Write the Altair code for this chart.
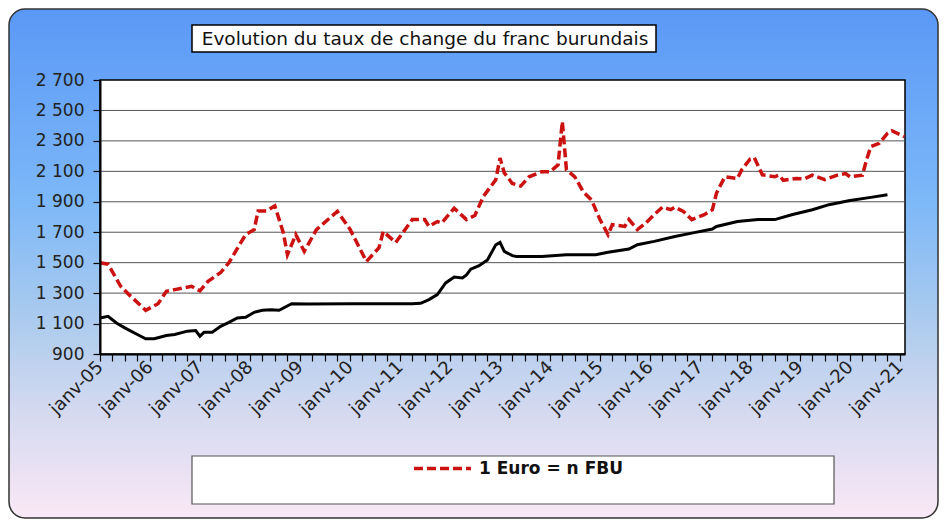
import altair as alt
import pandas as pd

# ---------------- data ----------------
title_text = "Evolution du taux de change du franc burundais"
euro_label = "1 Euro = n FBU"

euro_dates = ["2005-01", "2005-03", "2005-06", "2005-08", "2005-12", "2006-03", "2006-05", "2006-07",
              "2006-11", "2007-01", "2007-03", "2007-06", "2007-08", "2007-11", "2007-12", "2008-02",
              "2008-03", "2008-05", "2008-07", "2008-09", "2008-10", "2008-12", "2009-02", "2009-05",
              "2009-10", "2010-01", "2010-05", "2010-08", "2010-09", "2010-12", "2011-04", "2011-07",
              "2011-08", "2011-10", "2011-11", "2012-02", "2012-05", "2012-07", "2012-09", "2012-12",
              "2013-01", "2013-02", "2013-04", "2013-06", "2013-08", "2013-11", "2014-01", "2014-03",
              "2014-04", "2014-05", "2014-07", "2014-09", "2014-11", "2015-01", "2015-03", "2015-04",
              "2015-07", "2015-08", "2015-10", "2015-12", "2016-02", "2016-04", "2016-06", "2016-07",
              "2016-09", "2016-11", "2017-02", "2017-04", "2017-05", "2017-07", "2017-10", "2017-11",
              "2018-01", "2018-02", "2018-04", "2018-07", "2018-08", "2018-09", "2018-12", "2019-02",
              "2019-04", "2019-07", "2019-10", "2019-12", "2020-01", "2020-04", "2020-05", "2020-06",
              "2020-08", "2020-10", "2020-11", "2021-02"]
euro_values = [1500, 1490, 1345, 1290, 1187, 1230, 1312, 1323,
               1345, 1315, 1377, 1435, 1500, 1640, 1684, 1717,
               1840, 1840, 1873, 1697, 1552, 1684, 1574, 1717,
               1837, 1720, 1508, 1598, 1705, 1632, 1783, 1783,
               1738, 1770, 1760, 1857, 1783, 1810, 1935, 2045,
               2187, 2090, 2020, 2003, 2064, 2097, 2097, 2143,
               2427, 2110, 2064, 1966, 1911, 1783, 1684, 1750,
               1738, 1783, 1717, 1760, 1815, 1865, 1848, 1865,
               1837, 1783, 1815, 1848, 1957, 2064, 2053, 2110,
               2180, 2190, 2077, 2064, 2075, 2041, 2053, 2050,
               2075, 2045, 2075, 2085, 2064, 2075, 2175, 2262,
               2284, 2350, 2367, 2328]

usd_dates = ["2005-01", "2005-03", "2005-05", "2005-07", "2005-10", "2005-12", "2006-02", "2006-05",
             "2006-07", "2006-10", "2006-12", "2007-01", "2007-02", "2007-04", "2007-06", "2007-08",
             "2007-10", "2007-12", "2008-02", "2008-04", "2008-06", "2008-08", "2008-11", "2009-03",
             "2010-01", "2011-04", "2011-06", "2011-08", "2011-10", "2011-12", "2012-02", "2012-04",
             "2012-05", "2012-06", "2012-08", "2012-10", "2012-12", "2013-01", "2013-02", "2013-04",
             "2013-05", "2013-11", "2014-05", "2014-12", "2015-03", "2015-08", "2015-10", "2016-02",
             "2016-07", "2016-11", "2017-04", "2017-05", "2017-10", "2018-03", "2018-07", "2018-11",
             "2019-04", "2019-08", "2020-01", "2020-06", "2020-10"]
usd_values = [1137, 1148, 1104, 1072, 1028, 1000, 1000, 1021,
              1028, 1050, 1054, 1017, 1043, 1043, 1082, 1108,
              1137, 1141, 1174, 1187, 1191, 1187, 1230, 1228,
              1230, 1230, 1233, 1257, 1290, 1367, 1406, 1400,
              1420, 1457, 1480, 1518, 1617, 1633, 1574, 1546,
              1541, 1541, 1552, 1552, 1568, 1590, 1618, 1640,
              1672, 1694, 1721, 1738, 1770, 1783, 1783, 1815,
              1848, 1881, 1909, 1929, 1946]

y_ticks = [900, 1100, 1300, 1500, 1700, 1900, 2100, 2300, 2500, 2700]
grid_values = [1100, 1300, 1500, 1700, 1900, 2100, 2300, 2500]

# ---------------- layout ----------------
W, H = 805, 274
PL, PT, PR, PB = 92, 72, 34, 165
FONT = "DejaVu Sans"

euro_df = pd.DataFrame({"date": [d + "-01" for d in euro_dates], "value": euro_values, "serie": euro_label})
usd_df = pd.DataFrame({"date": [d + "-01" for d in usd_dates], "value": usd_values})
grid_df = pd.DataFrame({"value": grid_values})
one = pd.DataFrame({"t": [title_text]})

x_scale = alt.Scale(type="utc",
                    domain=[alt.DateTime(year=2005, month=1, date=1, utc=True),
                            alt.DateTime(year=2021, month=2, date=6, utc=True)])
y_scale = alt.Scale(domain=[900, 2700], nice=False, zero=False)

x_axis = alt.Axis(title=None, grid=False, zindex=1,
                  tickCount={"interval": "month", "step": 3},
                  labelExpr="utcmonth(datum.value) == 0 ? 'janv-' + utcFormat(datum.value, '%y') : ''",
                  labelAngle=-45, labelAlign="right", labelBaseline="middle",
                  labelFont=FONT, labelFontSize=18, labelColor="#222222", labelPadding=3,
                  labelOverlap=False, labelFlush=False,
                  domainColor="black", domainWidth=2, tickColor="black", tickSize=7, tickWidth=1.2)
y_axis = alt.Axis(title=None, grid=False, zindex=1, values=y_ticks,
                  labelExpr="replace(format(datum.value, ','), ',', ' ')",
                  labelFont=FONT, labelFontSize=17, labelColor="#222222", labelPadding=9,
                  domainColor="black", domainWidth=2, tickColor="black", tickSize=7, tickWidth=1.2)

gradient = alt.LinearGradient(
    gradient="linear", x1=0, x2=0, y1=0, y2=1,
    stops=[alt.GradientStop(offset=0.0, color="#5A98F6"),
           alt.GradientStop(offset=0.38, color="#7DB8F8"),
           alt.GradientStop(offset=0.6, color="#A9CAEE"),
           alt.GradientStop(offset=0.8, color="#D6DAF0"),
           alt.GradientStop(offset=1.0, color="#FAE8F6")])

bg = alt.Chart(one).mark_rect(fill=gradient, stroke="#333333", strokeWidth=1.5, cornerRadius=16).encode(
    x=alt.value(-PL + 1), x2=alt.value(W + PR - 1), y=alt.value(-PT + 1), y2=alt.value(H + PB - 1))

plot_bg = alt.Chart(one).mark_rect(fill="white", stroke="black", strokeWidth=1.5).encode(
    x=alt.value(0), x2=alt.value(W), y=alt.value(0), y2=alt.value(H))

grid = alt.Chart(grid_df).mark_rule(color="#555555", strokeWidth=1).encode(
    y=alt.Y("value:Q", scale=y_scale, axis=y_axis), x=alt.value(0), x2=alt.value(W))

title_box = alt.Chart(one).mark_rect(fill="white", stroke="black", strokeWidth=1.5).encode(
    x=alt.value(92), x2=alt.value(556), y=alt.value(-55), y2=alt.value(-28))
title_txt = alt.Chart(one).mark_text(font=FONT, fontSize=18.5, color="#111111",
                                     align="center", baseline="middle").encode(
    text="t:N", x=alt.value(325), y=alt.value(-41))

legend_box = alt.Chart(one).mark_rect(fill="white", stroke="#555555", strokeWidth=1.2).encode(
    x=alt.value(92), x2=alt.value(734), y=alt.value(376), y2=alt.value(424))

usd_line = alt.Chart(usd_df).mark_line(color="black", strokeWidth=3).encode(
    x=alt.X("date:T", scale=x_scale, axis=x_axis),
    y=alt.Y("value:Q", scale=y_scale, axis=y_axis))

euro_line = alt.Chart(euro_df).mark_line(strokeWidth=3.5, strokeDash=[9, 4]).encode(
    x=alt.X("date:T", scale=x_scale, axis=x_axis),
    y=alt.Y("value:Q", scale=y_scale, axis=y_axis),
    color=alt.Color("serie:N", scale=alt.Scale(domain=[euro_label], range=["#CC1111"]),
                    legend=alt.Legend(title=None, orient="none", legendX=312, legendY=358,
                                      symbolType="stroke", symbolSize=3249, symbolStrokeWidth=3.5,
                                      symbolDash=[9, 4], labelFont=FONT, labelFontSize=17,
                                      labelFontWeight="bold", labelColor="#111111", labelOffset=6,
                                      padding=0)))

chart = alt.layer(bg, plot_bg, grid, title_box, title_txt, legend_box, usd_line, euro_line).properties(
    width=W, height=H,
    padding={"left": PL, "top": PT, "right": PR, "bottom": PB},
    autosize=alt.AutoSizeParams(type="none"),
).configure_view(stroke=None).configure(background="white")

chart.save("out.html", embed_options={"renderer": "svg", "actions": False})
